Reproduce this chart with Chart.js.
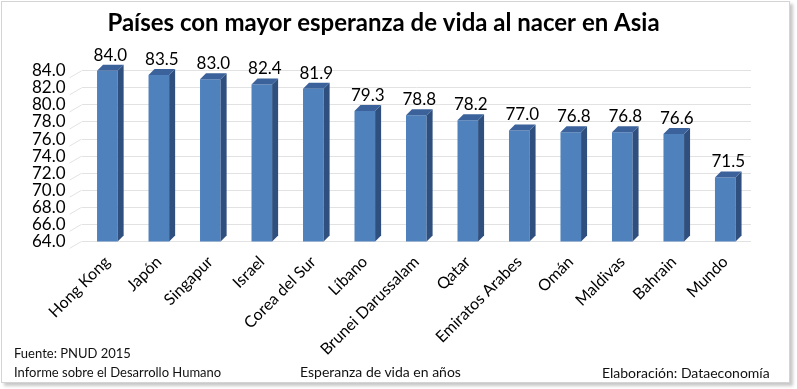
<!DOCTYPE html>
<html>
<head>
<meta charset="utf-8">
<script src="https://cdn.jsdelivr.net/npm/chart.js@4.4.0/dist/chart.umd.min.js"></script>
<style>
  body { margin: 0; background: #fff; font-family: Lato, "Open Sans", sans-serif; }
  #wrap { position: absolute; left: 1px; top: 1px; width: 787px; height: 380px; border: 1px solid #d4d4d4; box-shadow: 3px 3px 3px #c8c8c8; background: #fff; }
  #chart { position: absolute; left: 0; top: 0; }
  .note { position: absolute; font-size: 13px; color: #111; white-space: nowrap; }
</style>
</head>
<body>
<div id="wrap">
  <canvas id="chart" width="787" height="380"></canvas>
  <div class="note" style="left:12px;top:343px;">Fuente: PNUD 2015</div>
  <div class="note" style="left:12px;top:362px;">Informe sobre el Desarrollo Humano</div>
  <div class="note" style="left:298px;top:361px;font-size:14px;">Esperanza de vida en años</div>
  <div class="note" style="left:600px;top:362px;font-size:14px;">Elaboración: Dataeconomía</div>
</div>
<script>
const countries = ['Hong Kong', 'Japón', 'Singapur', 'Israel', 'Corea del Sur', 'Líbano',
  'Brunei Darussalam', 'Qatar', 'Emiratos Arabes', 'Omán', 'Maldivas', 'Bahrain', 'Mundo'];
const lifeExpectancy = [84.0, 83.5, 83.0, 82.4, 81.9, 79.3, 78.8, 78.2, 77.0, 76.8, 76.8, 76.6, 71.5];
const yMin = 64;
const yMax = 84;
const yStep = 2;

// Fake 3D depth for the bars (side + top faces) and labels above them
const bars3d = {
  id: 'bars3d',
  afterDatasetsDraw(chart) {
    const ctx = chart.ctx;
    const d = 6;
    const bottom = chart.chartArea.bottom;
    chart.getDatasetMeta(0).data.forEach((bar, i) => {
      const w = bar.width;
      const l = bar.x - w / 2, r = bar.x + w / 2;
      const top = bar.y, base = Math.min(bar.base, bottom);
      ctx.save();
      // side
      ctx.fillStyle = '#2f4f7e';
      ctx.beginPath();
      ctx.moveTo(r, top); ctx.lineTo(r + d, top - d);
      ctx.lineTo(r + d, base - d); ctx.lineTo(r, base);
      ctx.closePath(); ctx.fill();
      // top
      ctx.fillStyle = '#3b629a';
      ctx.beginPath();
      ctx.moveTo(l, top); ctx.lineTo(l + d, top - d);
      ctx.lineTo(r + d, top - d); ctx.lineTo(r, top);
      ctx.closePath(); ctx.fill();
      // value label
      ctx.fillStyle = '#000';
      ctx.font = '17px Lato, "Open Sans", sans-serif';
      ctx.textAlign = 'center';
      ctx.textBaseline = 'bottom';
      ctx.fillText(lifeExpectancy[i].toFixed(1), bar.x + 3, top - d - 1);
      ctx.restore();
    });
  }
};

// small diagonal floor lines at the left end of each gridline
const floorLines = {
  id: 'floorLines',
  beforeDatasetsDraw(chart) {
    const ctx = chart.ctx;
    const y = chart.scales.y;
    const left = chart.chartArea.left;
    ctx.save();
    ctx.strokeStyle = '#e2e2e2';
    ctx.lineWidth = 1;
    for (let v = yMin; v <= yMax; v += yStep) {
      const py = y.getPixelForValue(v);
      ctx.beginPath();
      ctx.moveTo(left, py);
      ctx.lineTo(left - 12, py + 7);
      ctx.stroke();
    }
    ctx.restore();
  }
};

new Chart(document.getElementById('chart'), {
  type: 'bar',
  data: {
    labels: countries,
    datasets: [{
      label: 'Esperanza de vida',
      data: lifeExpectancy,
      backgroundColor: '#4f81bd',
      borderWidth: 0,
      barPercentage: 0.4,
      categoryPercentage: 1.0
    }]
  },
  options: {
    responsive: false,
    animation: false,
    layout: { padding: { left: 14, right: 38, top: 0, bottom: 20 } },
    plugins: {
      legend: { display: false },
      tooltip: { enabled: false },
      title: {
        display: true,
        text: 'Países con mayor esperanza de vida al nacer en Asia',
        color: '#000',
        font: { family: 'Lato, "Open Sans", sans-serif', size: 24, weight: 'bold' },
        padding: { top: 7, bottom: 33 }
      }
    },
    scales: {
      y: {
        min: yMin,
        max: yMax,
        ticks: {
          stepSize: yStep,
          autoSkip: false,
          color: '#000',
          padding: 16,
          font: { family: 'Lato, "Open Sans", sans-serif', size: 17 },
          callback: v => v.toFixed(1)
        },
        grid: { color: '#e2e2e2', drawTicks: false },
        border: { display: false }
      },
      x: {
        ticks: {
          color: '#000',
          minRotation: 45,
          maxRotation: 45,
          font: { family: 'Lato, "Open Sans", sans-serif', size: 16 }
        },
        grid: { display: false },
        border: { display: false }
      }
    }
  },
  plugins: [floorLines, bars3d]
});
</script>
</body>
</html>
